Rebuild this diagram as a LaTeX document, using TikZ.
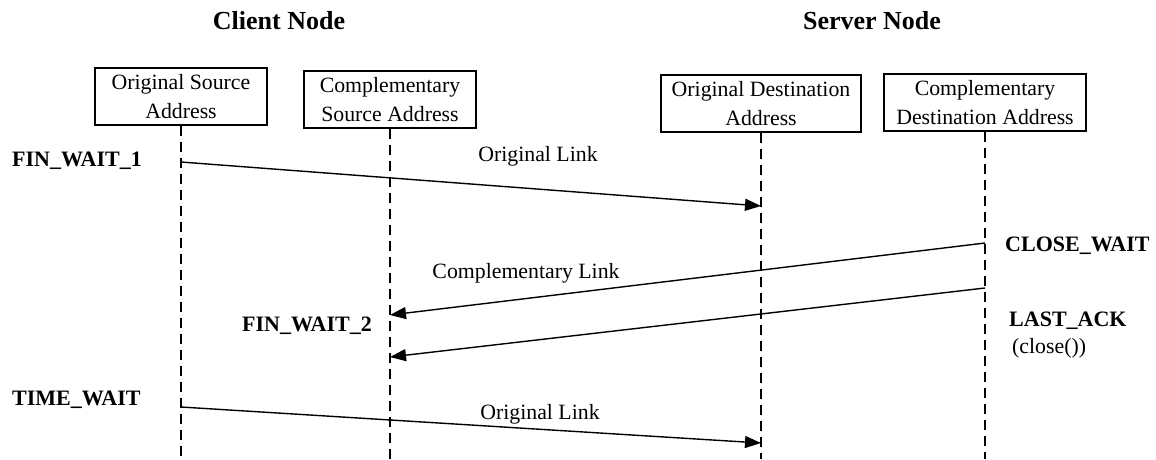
\documentclass[tikz,border=0pt]{standalone}
\usepackage{fontspec}
\setmainfont{Liberation Serif}
\usetikzlibrary{arrows.meta}
\begin{document}
\begin{tikzpicture}[x=1pt,y=-1pt,
  addrbox/.style={draw,line width=1.4pt,align=center,inner sep=0pt,font=\fontsize{21.8}{29}\selectfont},
  lifeline/.style={line width=1.3pt,dash pattern=on 10pt off 6pt},
  msg/.style={line width=1.4pt,-{Triangle[length=16pt,width=12pt]}},
  lbl/.style={font=\fontsize{21.8}{24}\selectfont,inner sep=0pt},
  st/.style={font=\fontsize{22}{24}\selectfont\bfseries,inner sep=0pt,anchor=west},
  ttl/.style={font=\fontsize{26}{30}\selectfont\bfseries,inner sep=0pt}]
\useasboundingbox (0,0) rectangle (1156,459);
% titles
\node[ttl] (tc) at (279,21) {Client Node};
\node[ttl] (ts) at (872,21) {Server Node};
% boxes
\node[addrbox,minimum width=172pt,minimum height=57pt] (b1) at (181,96.5) {Original Source\\Address};
\node[addrbox,minimum width=172pt,minimum height=57pt] (b2) at (390,99.5) {Complementary\\Source Address};
\node[addrbox,minimum width=200pt,minimum height=57pt] (b3) at (761,103.5) {Original Destination\\Address};
\node[addrbox,minimum width=202pt,minimum height=57pt] (b4) at (985,102.5) {Complementary\\Destination Address};
% lifeline ends
\coordinate (e1) at (181,459);
\coordinate (e2) at (390,459);
\coordinate (e3) at (761,459);
\coordinate (e4) at (985,459);
\draw[lifeline] (b1.south) -- (e1);
\draw[lifeline] (b2.south) -- (e2);
\draw[lifeline] (b3.south) -- (e3);
\draw[lifeline] (b4.south) -- (e4);
% message points
\coordinate (m1s) at (181,162);
\coordinate (m1e) at (761,206);
\coordinate (m2s) at (985,243);
\coordinate (m2e) at (390,315);
\coordinate (m3s) at (985,288);
\coordinate (m3e) at (390,357);
\coordinate (m4s) at (181,407);
\coordinate (m4e) at (761,443);
\draw[msg] (m1s) -- (m1e);
\draw[msg] (m2s) -- (m2e);
\draw[msg] (m3s) -- (m3e);
\draw[msg] (m4s) -- (m4e);
% link labels
\node[lbl] (l1) at (538,156) {Original Link};
\node[lbl] (l2) at (526,273) {Complementary Link};
\node[lbl] (l3) at (540,414) {Original Link};
% state labels
\node[st] (s1) at (12,161) {FIN\_WAIT\_1};
\node[st] (s2) at (1005,246) {CLOSE\_WAIT};
\node[st] (s3) at (242,326) {FIN\_WAIT\_2};
\node[st] (s4) at (1009,321) {LAST\_ACK};
\node[lbl,anchor=west] (s5) at (1012,348) {(close())};
\node[st] (s6) at (12,400) {TIME\_WAIT};
\end{tikzpicture}
\end{document}
